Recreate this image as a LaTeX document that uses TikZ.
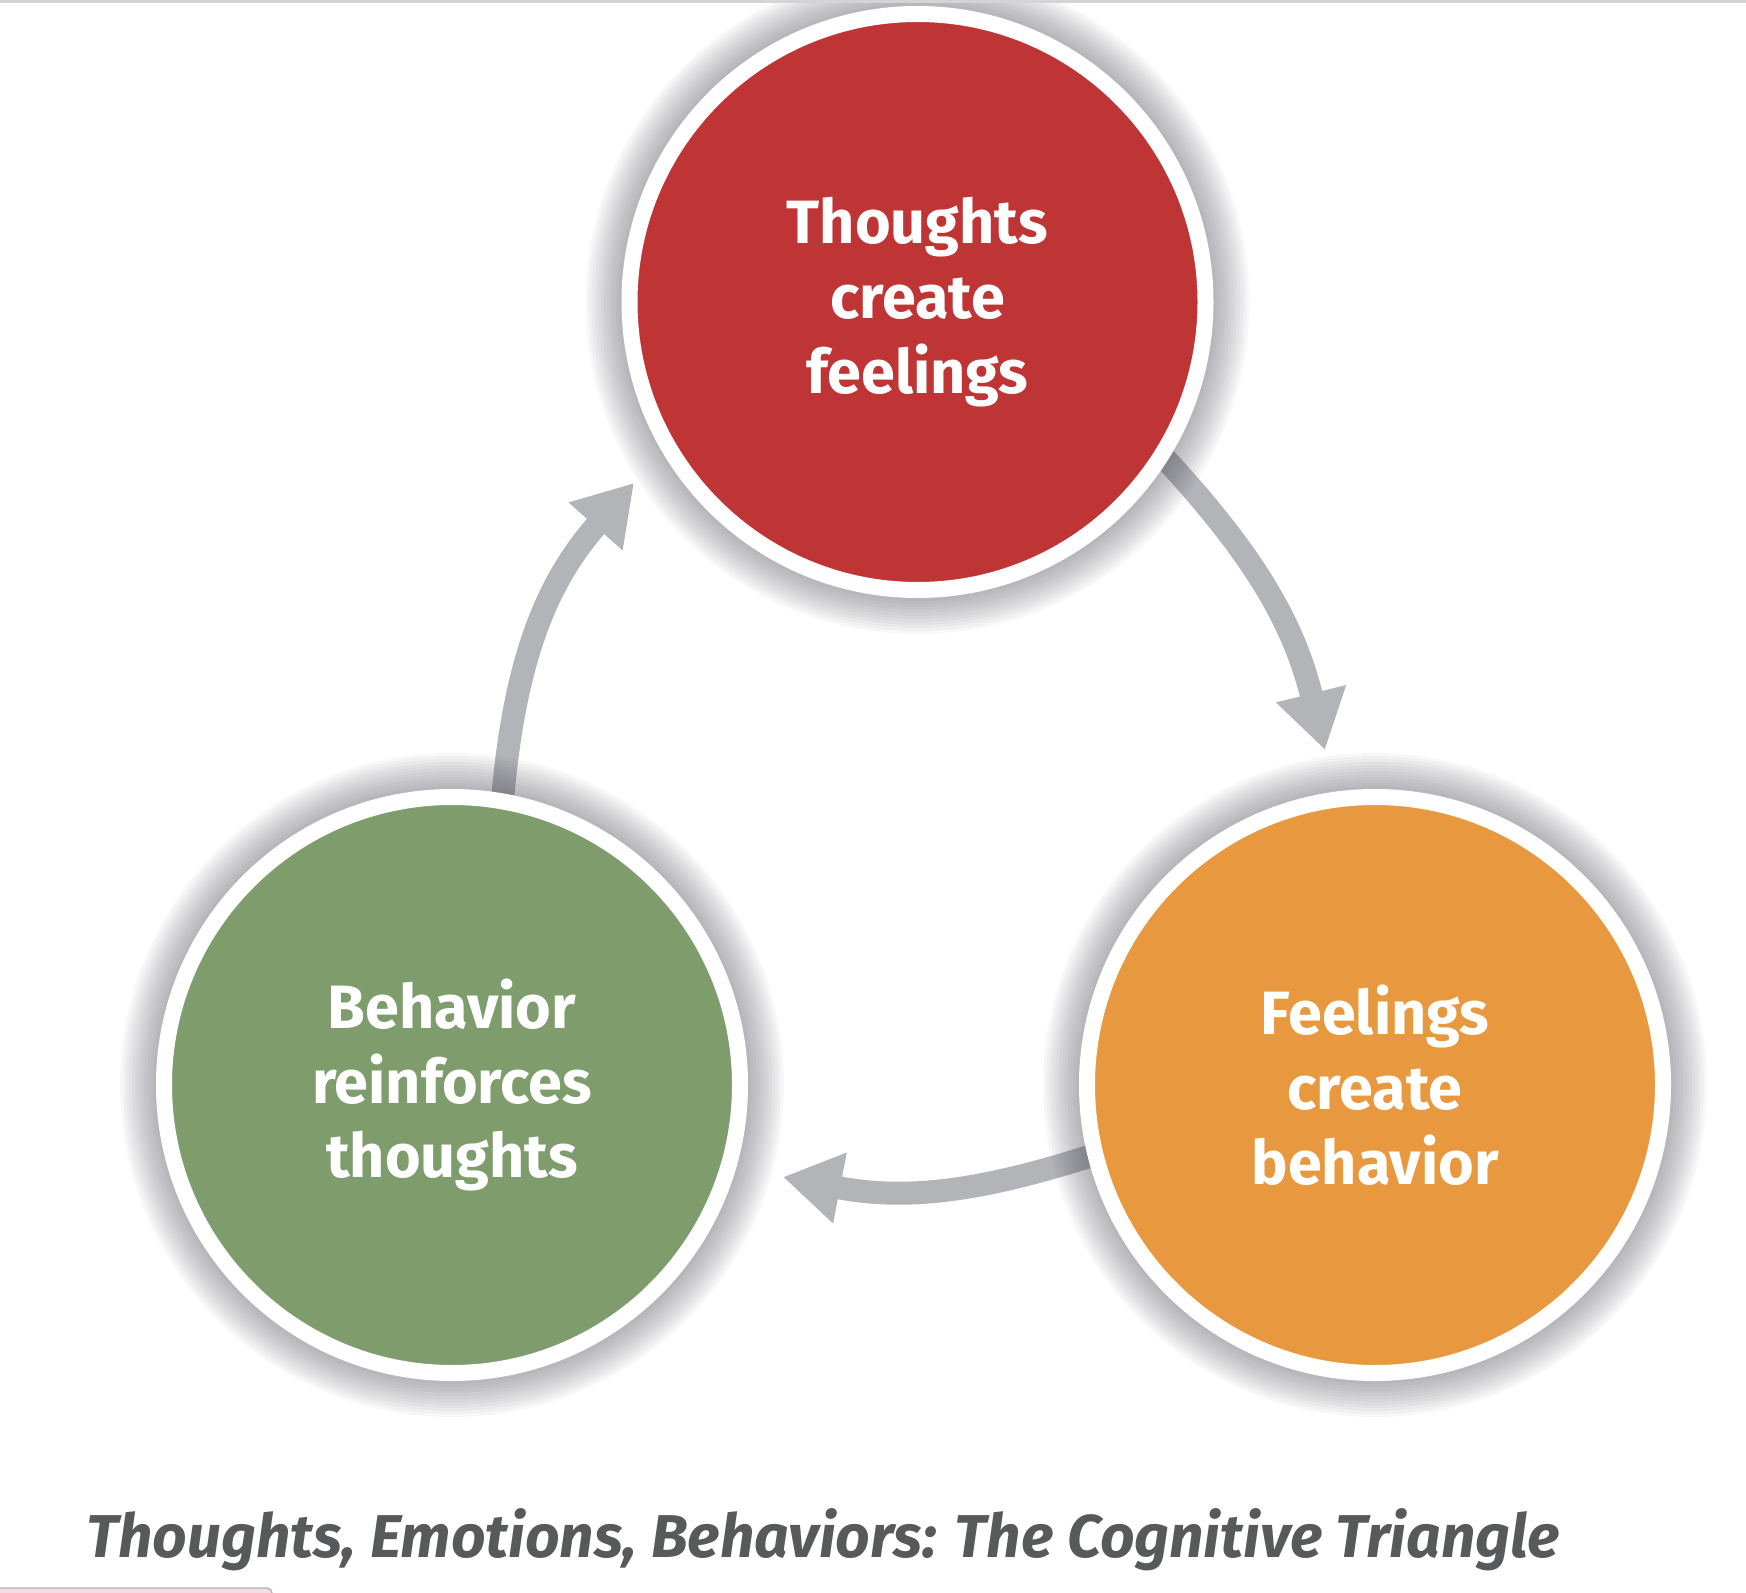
\documentclass[tikz,border=0pt]{standalone}
\usepackage{fontspec}
\setmainfont{Fira Sans}
\usepackage{xcolor}
\usepackage{tikz}
\usetikzlibrary{arrows.meta,backgrounds}
\definecolor{CTRed}{HTML}{BF3535}
\definecolor{CTGreen}{HTML}{7E9C6C}
\definecolor{CTOrange}{HTML}{E8993F}
\definecolor{CTArrow}{HTML}{B3B4B8}
\definecolor{CTCaption}{HTML}{58595B}
\definecolor{CTShadow}{HTML}{50505A}
\definecolor{CTLine}{HTML}{D4D4D6}
\definecolor{CTTab}{HTML}{F2DCE6}
\tikzset{
  ctcircle/.style={circle,draw=white,line width=0.16cm,minimum size=5.76cm,inner sep=0pt,outer sep=0pt,
    text=white,align=center,font=\bfseries\fontsize{17.4}{21.3}\selectfont},
  ctarrow/.style={CTArrow,line width=0.23cm,-{Triangle[width=0.68cm,length=0.58cm]},shorten <=-0.3cm}
}

\begin{document}
\begin{tikzpicture}[x=1cm,y=1cm]
\path[use as bounding box] (0,0) rectangle (17.46,15.92);
\draw[CTLine,line width=0.03cm] (0,15.90) -- (17.46,15.90);
\node[ctcircle,fill=CTRed] (thoughts) at (9.175,12.90) {Thoughts\\create\\feelings};
\node[ctcircle,fill=CTOrange] (feelings) at (13.75,5.07) {Feelings\\create\\behavior};
\node[ctcircle,fill=CTGreen] (behavior) at (4.52,5.07) {Behavior\\reinforces\\thoughts};
\coordinate (tipfeel) at (13.25,8.42);
\coordinate (tipbehav) at (7.83,4.15);
\coordinate (tipthought) at (6.34,11.09);
\begin{scope}[on background layer]
\draw[ctarrow] (thoughts.-32) to[bend left=15] (tipfeel);
\draw[ctarrow] (feelings.194) to[bend left=15] (tipbehav);
\draw[ctarrow] (behavior.80) to[bend left=19] (tipthought);
% soft halo round each circle
\foreach \c in {thoughts,feelings,behavior}
  \foreach \k in {1,...,12}
    \fill[CTShadow,opacity=0.045] (\c.center) circle ({2.96+0.03*\k});
\end{scope}
\node[anchor=base west,text=CTCaption,font=\bfseries\itshape\fontsize{17.2}{20}\selectfont] (caption) at (0.74,0.35) {Thoughts, Emotions, Behaviors: The Cognitive Triangle};
\draw[draw=gray!60,fill=CTTab,rounded corners=0.05cm] (-0.2,-0.2) rectangle (2.72,0.04);
\end{tikzpicture}
\end{document}
